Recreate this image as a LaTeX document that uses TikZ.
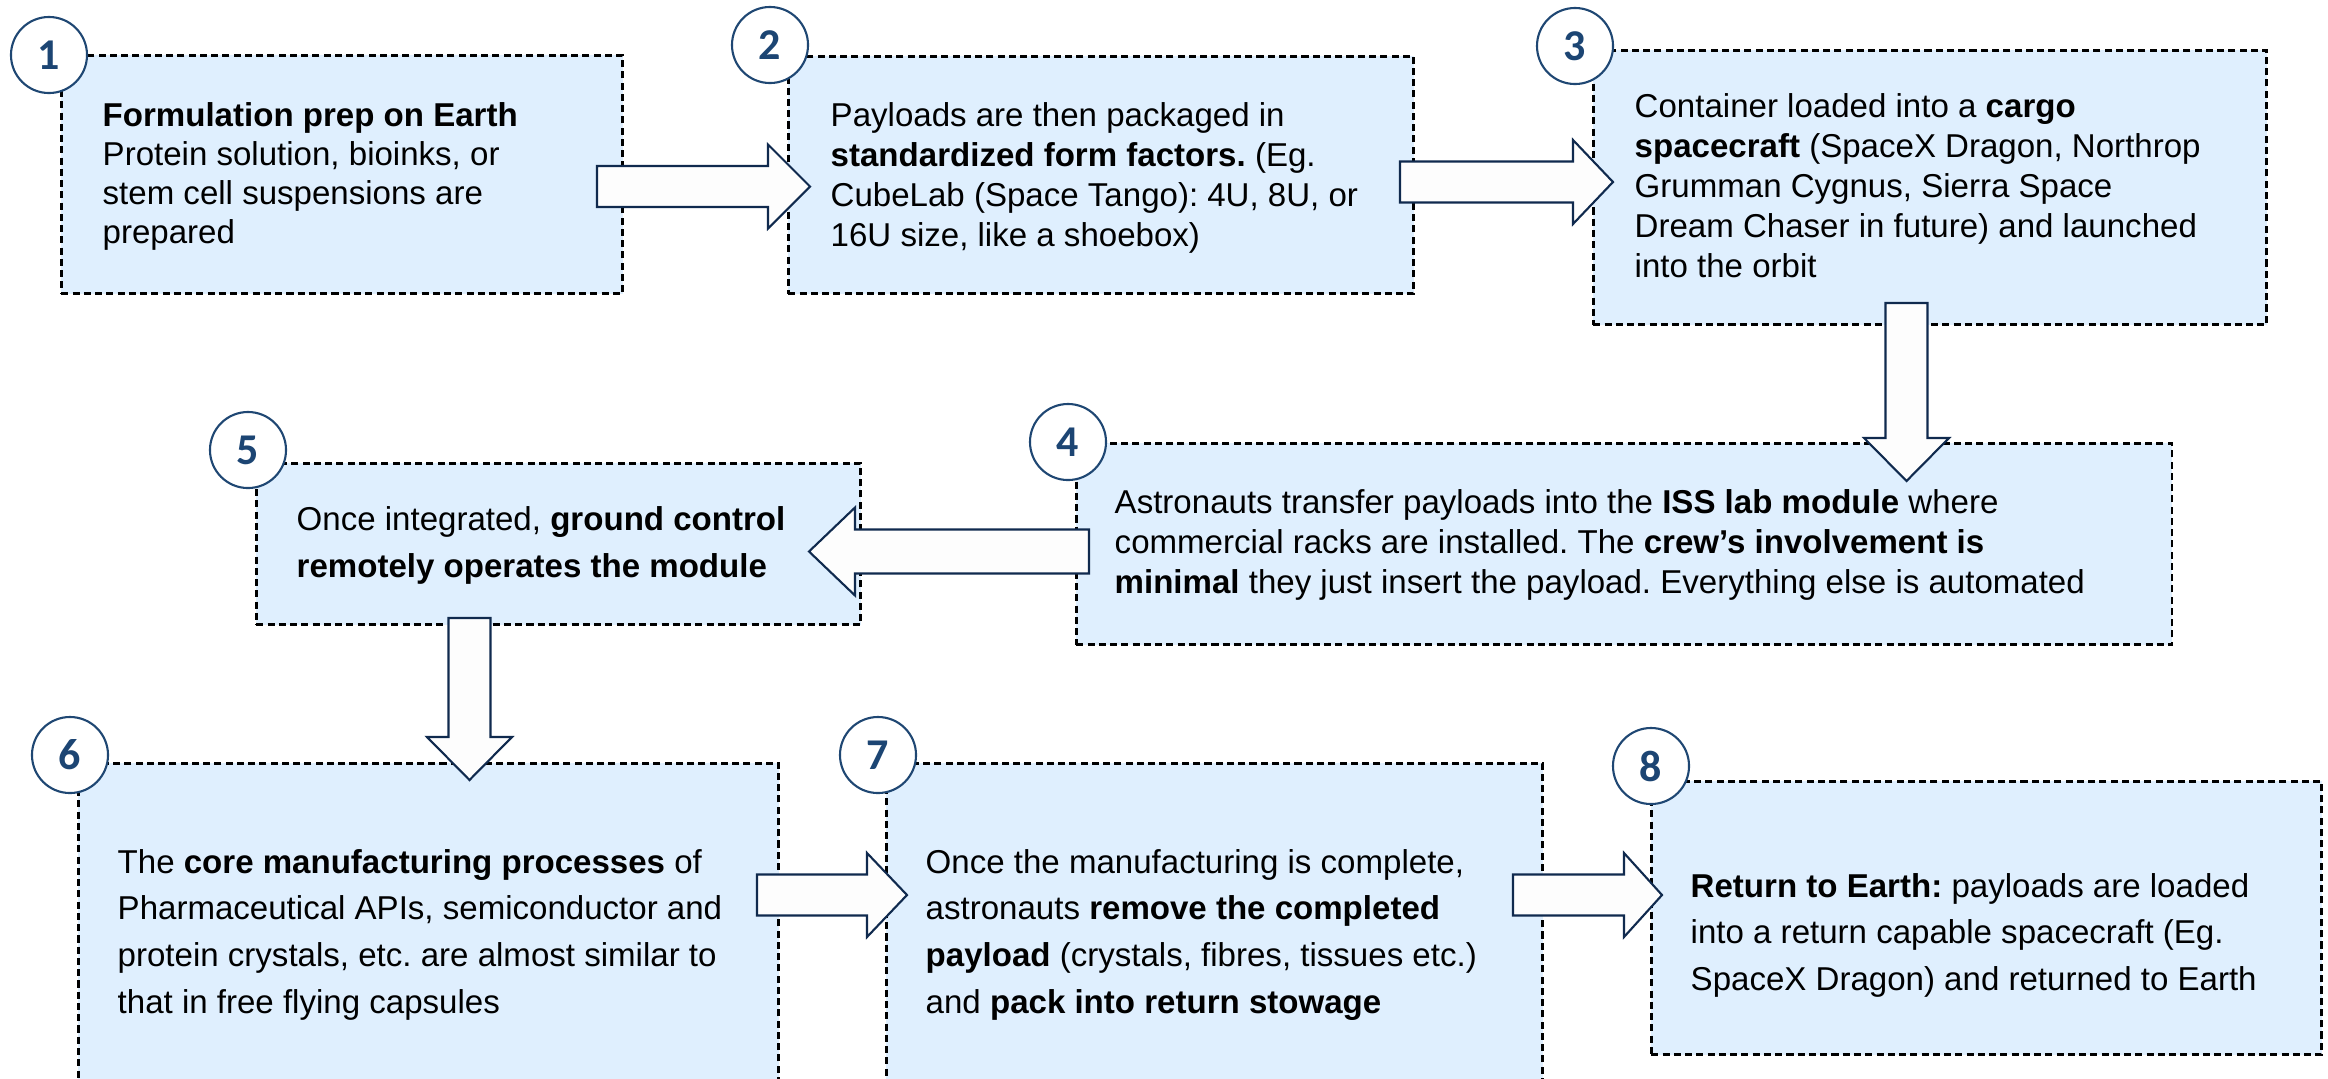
\documentclass[tikz,border=0pt]{standalone}
\usepackage{fontspec}
\setmainfont{Liberation Sans}
\newfontfamily\numfont{Carlito}
\frenchspacing
\definecolor{boxfill}{RGB}{223,239,254}
\definecolor{navy}{RGB}{16,42,78}
\definecolor{circline}{RGB}{31,71,115}
\definecolor{numblue}{RGB}{28,69,115}
\definecolor{arrfill}{RGB}{253,253,253}
\newcommand{\boxtext}[2]{\parbox[t]{12cm}{\raggedright\frenchspacing\fontsize{9.4pt}{#1}\selectfont #2}}
\newcommand{\rarrow}[4]{\draw[blockarrow] ({#1},{#4-20.5}) -- ({#2},{#4-20.5}) -- ({#2},{#4-42}) -- ({#3},{#4}) -- ({#2},{#4+42}) -- ({#2},{#4+20.5}) -- ({#1},{#4+20.5}) -- cycle;}
\newcommand{\darrow}[4]{\draw[blockarrow] ({#4-21},{#1}) -- ({#4-21},{#2}) -- ({#4-42.5},{#2}) -- ({#4},{#3}) -- ({#4+42.5},{#2}) -- ({#4+21},{#2}) -- ({#4+21},{#1}) -- cycle;}
\tikzset{
  stepbox/.style={rectangle, draw=black, fill=boxfill, line width=0.8pt, dash pattern=on 2pt off 1.2pt, anchor=north west, inner sep=0pt},
  numcirc/.style={circle, draw=circline, fill=white, line width=0.6pt, minimum size=0.76cm, inner sep=0pt, font=\numfont\bfseries\fontsize{12.5pt}{14pt}\selectfont, text=numblue},
  blockarrow/.style={draw=navy, fill=arrfill, line width=0.6pt, line join=miter},
  txt/.style={anchor=base west, inner sep=0pt}
}
\begin{document}
\begin{tikzpicture}[x=0.01cm, y=-0.01cm]
\useasboundingbox (0,0) rectangle (2328,1078);
\clip (0,0) rectangle (2328,1078);
% boxes
\node[stepbox, minimum width=5.61cm, minimum height=2.38cm] (b1) at (60,54) {};
\node[stepbox, minimum width=6.25cm, minimum height=2.37cm] (b2) at (787,55) {};
\node[stepbox, minimum width=6.73cm, minimum height=2.74cm] (b3) at (1592,49) {};
\node[stepbox, minimum width=10.95cm, minimum height=2.01cm] (b4) at (1075,442) {};
\node[stepbox, minimum width=6.04cm, minimum height=1.61cm] (b5) at (255,462) {};
\node[stepbox, minimum width=7.00cm, minimum height=3.40cm] (b6) at (77,762) {};
\node[stepbox, minimum width=6.56cm, minimum height=3.40cm] (b7) at (885,762) {};
\node[stepbox, minimum width=6.70cm, minimum height=2.73cm] (b8) at (1650,780) {};
% block arrows
\rarrow{597}{768}{810}{186.5}
\rarrow{1400}{1573}{1613}{182}
\darrow{303}{438}{481}{1906.5}
\draw[blockarrow] (1089,529.5) -- (855,529.5) -- (855,507.5) -- (809,551.5) -- (855,595.5) -- (855,573.5) -- (1089,573.5) -- cycle;
\darrow{618}{737}{780}{469.5}
\rarrow{757}{867}{907}{895}
\rarrow{1513}{1624}{1662}{895}
% number circles
\node[numcirc] (c1) at (49,55) {1};
\node[numcirc] (c2) at (770,45) {2};
\node[numcirc] (c3) at (1575,46) {3};
\node[numcirc] (c4) at (1068,442) {4};
\node[numcirc] (c5) at (248,450) {5};
\node[numcirc] (c6) at (70,755) {6};
\node[numcirc] (c7) at (878,755) {7};
\node[numcirc] (c8) at (1651,766) {8};
% texts
\node[txt] (t1) at (102,126) {\boxtext{11.18pt}{\textbf{Formulation prep on Earth}\\Protein solution, bioinks, or\\stem cell suspensions are\\prepared}};
\node[txt] (t2) at (830,126) {\boxtext{11.38pt}{Payloads are then packaged in\\\textbf{standardized form factors.} (Eg.\\CubeLab (Space Tango): 4U, 8U, or\\16U size, like a shoebox)}};
\node[txt] (t3) at (1634,117) {\boxtext{11.38pt}{Container loaded into a \textbf{cargo}\\\textbf{spacecraft} (SpaceX Dragon, Northrop\\Grumman Cygnus, Sierra Space\\Dream Chaser in future) and launched\\into the orbit}};
\node[txt] (t4) at (1114,513) {\boxtext{11.38pt}{Astronauts transfer payloads into the \textbf{ISS lab module} where\\commercial racks are installed. The \textbf{crew’s involvement is}\\\textbf{minimal} they just insert the payload. Everything else is automated}};
\node[txt] (t5) at (296,530) {\boxtext{13.37pt}{Once integrated, \textbf{ground control}\\\textbf{remotely operates the module}}};
\node[txt] (t6) at (117,873) {\boxtext{13.29pt}{The \textbf{core manufacturing processes} of\\Pharmaceutical APIs, semiconductor and\\protein crystals, etc. are almost similar to\\that in free flying capsules}};
\node[txt] (t7) at (925,873) {\boxtext{13.29pt}{Once the manufacturing is complete,\\astronauts \textbf{remove the completed}\\\textbf{payload} (crystals, fibres, tissues etc.)\\and \textbf{pack into return stowage}}};
\node[txt] (t8) at (1690,897) {\boxtext{13.29pt}{\textbf{Return to Earth:} payloads are loaded\\into a return capable spacecraft (Eg.\\SpaceX Dragon) and returned to Earth}};
\end{tikzpicture}
\end{document}
